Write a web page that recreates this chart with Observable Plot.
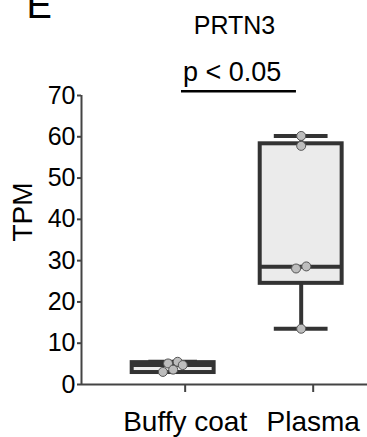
<!DOCTYPE html>
<html>
<head>
<meta charset="utf-8">
<script src="https://cdn.jsdelivr.net/npm/d3@7"></script>
<script src="https://cdn.jsdelivr.net/npm/@observablehq/plot@0.6"></script>
<style>
  html, body { margin: 0; padding: 0; background: #fff; }
</style>
</head>
<body>
<div id="chart"></div>
<script>
// ---- data ----
const panelLabel = "E";
const title = "PRTN3";
const yLabel = "TPM";
const categories = ["Buffy coat", "Plasma"];
const yTicks = [0, 10, 20, 30, 40, 50, 60, 70];

// box summaries
const boxMin    = [3.05, 13.5];
const boxQ1     = [2.9, 24.5];
const boxMedian = [4.7, 28.5];
const boxQ3     = [5.3, 58.3];
const boxMax    = [5.5, 60.2];

// individual samples
const buffyValues  = [3.05, 5.1, 3.6, 5.5, 4.7];
const buffyJitter  = [-0.08, -0.04, 0.0, 0.035, 0.075];
const plasmaValues = [60.2, 57.8, 28.1, 28.6, 13.5];
const plasmaJitter = [0.0, 0.0, -0.04, 0.04, 0.0];

const comparisons = [{a: "Buffy coat", b: "Plasma", label: "p < 0.05", y: 71}];

// ---- build tables ----
const boxes = categories.map((c, i) => ({
  i, category: c, min: boxMin[i], q1: boxQ1[i], median: boxMedian[i], q3: boxQ3[i], max: boxMax[i]
}));
const points = [
  ...buffyValues.map((v, k) => ({i: 0, x: 0 + buffyJitter[k], value: v})),
  ...plasmaValues.map((v, k) => ({i: 1, x: 1 + plasmaJitter[k], value: v}))
];
const comps = comparisons.map(d => ({
  ...d, ia: categories.indexOf(d.a), ib: categories.indexOf(d.b)
}));

const halfBox = 0.32;
const halfCap = [0.19, 0.21];
const xDomain = [-0.716, 1.518];
const dark = "#333333";
const axisColor = "#444444";

const chart = Plot.plot({
  width: 367,
  height: 437,
  marginLeft: 81,
  marginRight: 0,
  marginTop: 95,
  marginBottom: 53,
  style: {fontFamily: "'Liberation Sans', Arial, Helvetica, sans-serif", color: "#000", background: "#fff", overflow: "visible"},
  x: {type: "linear", domain: xDomain, axis: null},
  y: {domain: [0, 70], axis: null},
  marks: [
    // axes
    Plot.axisY({ticks: yTicks, tickSize: 4, tickPadding: 2, fontSize: 25, label: null, stroke: axisColor, strokeWidth: 2}),
    Plot.axisX({ticks: [0, 1], tickFormat: i => categories[i], tickSize: 8, tickPadding: 19, fontSize: 28, dx: 12, label: null, stroke: axisColor, strokeWidth: 2}),
    Plot.ruleX([xDomain[0]], {y1: 0, y2: 70, stroke: axisColor, strokeWidth: 2}),
    Plot.ruleY([0], {x1: xDomain[0], x2: xDomain[1], stroke: axisColor, strokeWidth: 2}),
    // whiskers
    Plot.ruleX(boxes, {x: "i", y1: "q3", y2: "max", stroke: dark, strokeWidth: 4}),
    Plot.ruleX(boxes, {x: "i", y1: "min", y2: "q1", stroke: dark, strokeWidth: 4}),
    Plot.ruleY(boxes, {y: "max", x1: d => d.i - halfCap[d.i], x2: d => d.i + halfCap[d.i], stroke: dark, strokeWidth: 4}),
    Plot.ruleY(boxes, {y: "min", x1: d => d.i - halfCap[d.i], x2: d => d.i + halfCap[d.i], stroke: dark, strokeWidth: 4}),
    // boxes
    Plot.rectY(boxes, {x1: d => d.i - halfBox, x2: d => d.i + halfBox, y1: "q1", y2: "q3", fill: "#ebebeb", stroke: dark, strokeWidth: 4}),
    Plot.ruleY(boxes, {y: "median", x1: d => d.i - halfBox, x2: d => d.i + halfBox, stroke: dark, strokeWidth: 4}),
    // points
    Plot.dot(points, {x: "x", y: "value", r: 4.5, fill: "#bdbdbd", stroke: "#555", strokeWidth: 1}),
    // significance bracket
    Plot.ruleY(comps, {y: "y", x1: d => d.ia + 0.065, x2: d => d.ib - 0.037, stroke: "#000", strokeWidth: 2.5}),
    Plot.text(comps, {x: d => (d.ia + d.ib) / 2, y: "y", text: "label", dx: -5, dy: -10, fontSize: 27, lineAnchor: "bottom", textAnchor: "middle", fill: "#000"}),
    // y label
    Plot.text([yLabel], {frameAnchor: "left", dx: -58, dy: -28, rotate: -90, fontSize: 28, lineAnchor: "middle", textAnchor: "middle", fill: "#000"}),
    // title and panel label
    Plot.text([title], {frameAnchor: "top", dx: 10, dy: -62, fontSize: 25, lineAnchor: "bottom", textAnchor: "middle", fill: "#000"}),
    Plot.text([panelLabel], {frameAnchor: "top-left", dx: -55, dy: -78, fontSize: 38, lineAnchor: "bottom", textAnchor: "start", fill: "#000"})
  ]
});
document.getElementById("chart").appendChild(chart);
</script>
</body>
</html>
